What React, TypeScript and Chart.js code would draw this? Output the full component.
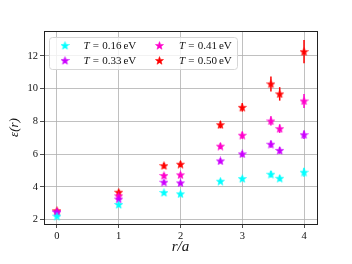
import React, { useEffect, useRef } from "react";
import { Chart, registerables } from "chart.js";

Chart.register(...registerables);

const rOverA = [0, 1, 1.732, 2, 2.646, 3, 3.464, 3.606, 4];
const eps016 = [2.22, 2.93, 3.66, 3.58, 4.35, 4.51, 4.78, 4.53, 4.9];
const eps033 = [2.45, 3.26, 4.29, 4.25, 5.59, 6.02, 6.61, 6.23, 7.19];
const eps041 = [2.5, 3.46, 4.7, 4.74, 6.49, 7.16, 8.03, 7.56, 9.25];
const eps050 = [2.55, 3.68, 5.3, 5.39, 7.8, 8.86, 10.29, 9.68, 12.26];
const err016 = [0.05, 0.08, 0.1, 0.1, 0.12, 0.14, 0.2, 0.18, 0.28];
const err033 = [0.05, 0.1, 0.12, 0.12, 0.15, 0.18, 0.22, 0.2, 0.26];
const err041 = [0.06, 0.12, 0.14, 0.14, 0.18, 0.22, 0.28, 0.26, 0.43];
const err050 = [0.08, 0.15, 0.18, 0.18, 0.22, 0.26, 0.46, 0.41, 0.71];
const tempLabels = ["0.16", "0.33", "0.41", "0.50"];
const colors = ["#00ffff", "#cc00ff", "#ff00cc", "#ff0000"];
const xTicks = [0, 1, 2, 3, 4];
const yTicks = [2, 4, 6, 8, 10, 12];

function makeStar(color: string, size = 9) {
  const c = document.createElement("canvas");
  c.width = size;
  c.height = size;
  const ctx = c.getContext("2d")!;
  const cx = size / 2, cy = size / 2 + 0.35;
  const R = size / 2 - 0.2, r = R * 0.42;
  ctx.beginPath();
  for (let i = 0; i < 10; i++) {
    const rad = i % 2 === 0 ? R : r;
    const a = -Math.PI / 2 + (i * Math.PI) / 5;
    const px = cx + rad * Math.cos(a), py = cy + rad * Math.sin(a);
    if (i === 0) ctx.moveTo(px, py); else ctx.lineTo(px, py);
  }
  ctx.closePath();
  ctx.fillStyle = color;
  ctx.fill();
  ctx.strokeStyle = color;
  ctx.lineWidth = 0.5;
  ctx.stroke();
  return c;
}

export default function App() {
  const ref = useRef<HTMLCanvasElement | null>(null);
  useEffect(() => {
    const series = [eps016, eps033, eps041, eps050];
    const errs = [err016, err033, err041, err050];
    const stars = colors.map((c) => makeStar(c));

    const errorBars = {
      id: "errorBars",
      beforeDatasetsDraw(chart: any) {
        const ctx = chart.ctx;
        const ys = chart.scales.y;
        const ca = chart.chartArea;
        ctx.save();
        ctx.beginPath();
        ctx.rect(ca.left, ca.top, ca.right - ca.left, ca.bottom - ca.top);
        ctx.clip();
        chart.data.datasets.forEach((ds: any, di: number) => {
          const meta = chart.getDatasetMeta(di);
          ctx.strokeStyle = colors[di];
          ctx.lineWidth = 1.5;
          meta.data.forEach((pt: any, i: number) => {
            const v = series[di][i], e = errs[di][i];
            ctx.beginPath();
            ctx.moveTo(pt.x, ys.getPixelForValue(v - e));
            ctx.lineTo(pt.x, ys.getPixelForValue(v + e));
            ctx.stroke();
          });
        });
        ctx.restore();
      },
      afterDraw(chart: any) {
        const ctx = chart.ctx;
        const ca = chart.chartArea;
        ctx.save();
        ctx.strokeStyle = "#222";
        ctx.lineWidth = 1;
        ctx.strokeRect(Math.round(ca.left) + 0.5, Math.round(ca.top) + 0.5, Math.round(ca.right - ca.left), Math.round(ca.bottom - ca.top));
        // legend
        const bx = 49.5, by = 37.5, bw = 188, bh = 32, rr = 3;
        ctx.beginPath();
        ctx.moveTo(bx + rr, by);
        ctx.arcTo(bx + bw, by, bx + bw, by + bh, rr);
        ctx.arcTo(bx + bw, by + bh, bx, by + bh, rr);
        ctx.arcTo(bx, by + bh, bx, by, rr);
        ctx.arcTo(bx, by, bx + bw, by, rr);
        ctx.closePath();
        ctx.fillStyle = "rgba(255,255,255,0.8)";
        ctx.fill();
        ctx.strokeStyle = "#d6d6d6";
        ctx.lineWidth = 1;
        ctx.stroke();
        const pos = [
          [65, 45.5, 83.5],
          [65, 60.5, 83.5],
          [159.5, 45.5, 179],
          [159.5, 60.5, 179],
        ];
        ctx.textBaseline = "middle";
        pos.forEach(([sx, sy, tx0], i) => {
          ctx.drawImage(stars[i], sx - 4.5, sy - 4.5);
          let tx = tx0;
          ctx.fillStyle = "#111";
          ctx.font = "italic 11px 'Liberation Serif'";
          ctx.fillText("T", tx, sy + 0.5);
          tx += ctx.measureText("T").width + 3.2;
          ctx.font = "11px 'Liberation Serif'";
          ctx.fillText("=", tx, sy + 0.5);
          tx += ctx.measureText("=").width + 3.2;
          ctx.fillText(tempLabels[i], tx, sy + 0.5);
          tx += ctx.measureText(tempLabels[i]).width + 2;
          ctx.fillText("eV", tx, sy + 0.5);
        });
        ctx.restore();
      },
    };

    const chart = new Chart(ref.current!, {
      type: "scatter",
      data: {
        datasets: series.map((s, di) => ({
          label: `T = ${tempLabels[di]} eV`,
          data: s.map((v, i) => ({ x: rOverA[i], y: v })),
          pointStyle: stars[di] as any,
          backgroundColor: colors[di],
          borderColor: colors[di],
          pointRadius: 4,
          pointHoverRadius: 4,
          showLine: false,
        })),
      },
      options: {
        animation: false,
        responsive: false,
        events: [],
        layout: { padding: { top: 31, right: 35, left: 0, bottom: 0 } },
        plugins: { legend: { display: false }, tooltip: { enabled: false } },
        scales: {
          x: {
            type: "linear",
            min: -0.21,
            max: 4.21,
            afterBuildTicks: (s: any) => { s.ticks = xTicks.map((v) => ({ value: v })); },
            afterFit: (s: any) => { s.height = 40; },
            ticks: { color: "#111", padding: 2, font: { family: "'Liberation Serif'", size: 10.5 } },
            grid: { color: "#b0b0b0", lineWidth: 0.8, tickColor: "#222", tickLength: 4 },
            border: { display: false },
            title: {
              display: true,
              text: "r/a",
              color: "#111",
              font: { family: "'Liberation Serif'", size: 15, style: "italic" },
              padding: { top: 0, bottom: 8 },
            },
          },
          y: {
            type: "linear",
            min: 1.74,
            max: 13.52,
            afterBuildTicks: (s: any) => { s.ticks = yTicks.map((v) => ({ value: v })); },
            afterFit: (s: any) => { s.width = 44; },
            ticks: { color: "#111", padding: 2, font: { family: "'Liberation Serif'", size: 10.5 } },
            grid: { color: "#b0b0b0", lineWidth: 0.8, tickColor: "#222", tickLength: 4 },
            border: { display: false },
            title: {
              display: true,
              text: "ε(r)",
              color: "#111",
              font: { family: "'Liberation Serif'", size: 13, style: "italic" },
              padding: { top: 7, bottom: 0 },
            },
          },
        },
      },
      plugins: [errorBars],
    });
    return () => chart.destroy();
  }, []);
  return (
    <div style={{ position: "absolute", left: 0, top: 0, width: 352, height: 264, background: "#fff" }}>
      <canvas ref={ref} width={352} height={264} />
    </div>
  );
}
